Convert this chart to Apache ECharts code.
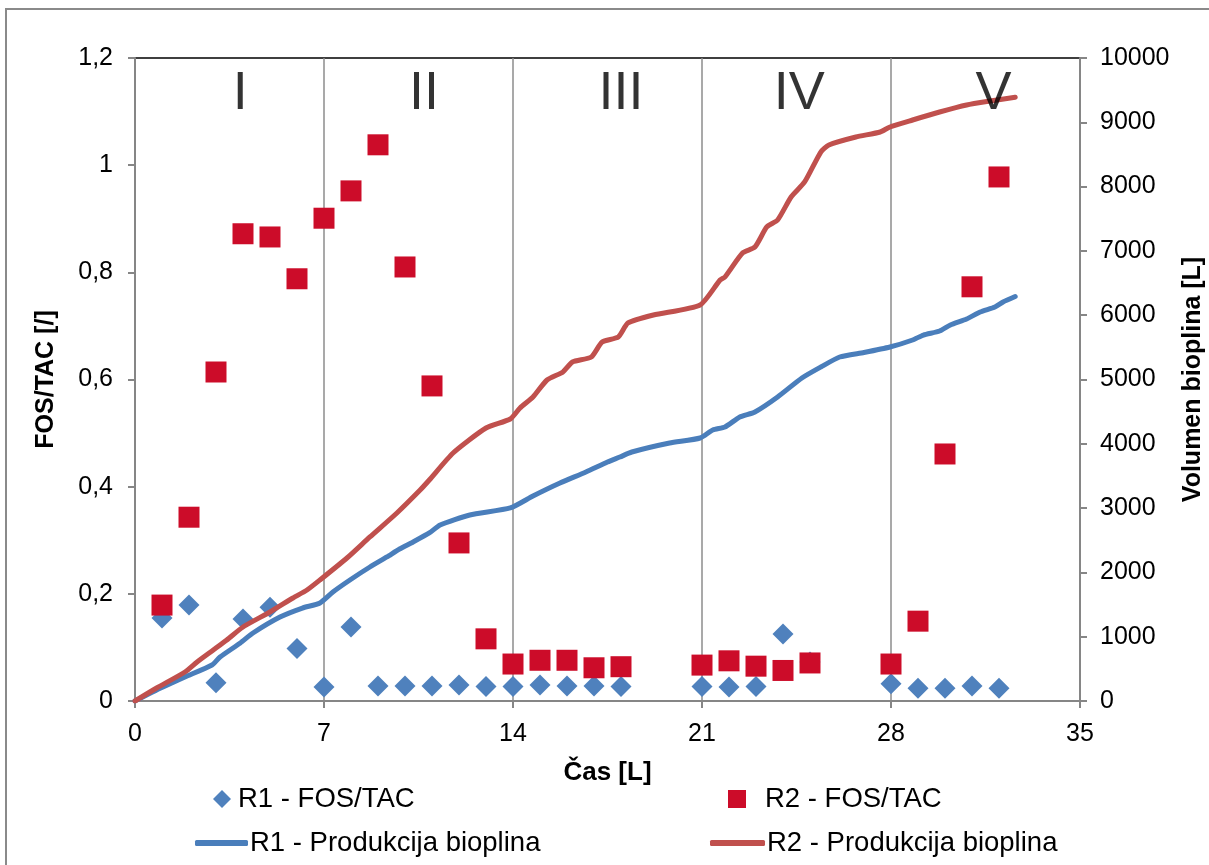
<!DOCTYPE html>
<html>
<head>
<meta charset="utf-8">
<script src="https://cdn.jsdelivr.net/npm/echarts@6/dist/echarts.min.js"></script>
<style>
  html, body { margin: 0; padding: 0; background: #ffffff; }
  #chart { width: 1209px; height: 865px; }
</style>
</head>
<body>
<div id="chart"></div>
<script>
// Sampling days of the FOS/TAC measurements
const fosDays = [1, 2, 3, 4, 5, 6, 7, 8, 9, 10, 11, 12, 13, 14, 15, 16, 17, 18,
                 21, 22, 23, 24, 25, 28, 29, 30, 31, 32];
// FOS/TAC ratio, reactor R1
const r1Fos = [0.155, 0.179, 0.034, 0.153, 0.175, 0.098, 0.026, 0.138, 0.028, 0.028,
               0.028, 0.030, 0.027, 0.027, 0.030, 0.028, 0.028, 0.027, 0.027, 0.026,
               0.027, 0.125, 0.073, 0.032, 0.024, 0.024, 0.028, 0.024];
// FOS/TAC ratio, reactor R2
const r2Fos = [0.179, 0.343, 0.614, 0.872, 0.866, 0.788, 0.901, 0.952, 1.038, 0.810,
               0.588, 0.295, 0.116, 0.069, 0.076, 0.076, 0.062, 0.064, 0.067, 0.075,
               0.065, 0.057, 0.071, 0.069, 0.149, 0.461, 0.773, 0.978];

// Cumulative biogas volume [L]: days and values, reactor R1
const r1GasDays = [0, 0.8, 1.85, 2.85, 3.15, 3.9, 4.37, 5.37, 6.2, 6.85, 7.33, 7.96, 8.7,
                   9.33, 9.8, 10.3, 10.9, 11.3, 12.4, 13.9, 14.74, 15.74, 16.7, 17.5,
                   17.96, 18.4, 19.8, 20.93, 21.4, 21.85, 22.4, 22.96, 23.8, 24.7, 25.4,
                   26.1, 27.0, 27.96, 28.8, 29.2, 29.8, 30.2, 30.8, 31.3, 31.85, 32.15, 32.6];
const r1Gas = [0, 171, 373, 560, 684, 902, 1058, 1306, 1446, 1524, 1695, 1882, 2084,
               2240, 2364, 2473, 2613, 2737, 2893, 3002, 3188, 3390, 3561, 3717,
               3795, 3872, 4012, 4090, 4215, 4261, 4417, 4495, 4728, 5023, 5194,
               5350, 5420, 5505, 5614, 5692, 5754, 5848, 5941, 6050, 6128, 6205, 6290];

// Cumulative biogas volume [L]: days and values, reactor R2
const r2GasDays = [0, 0.8, 1.85, 2.3, 2.9, 3.4, 4.0, 5.0, 5.85, 6.37, 6.85, 7.85, 8.7,
                   9.7, 10.56, 10.9, 11.78, 13.0, 13.9, 14.26, 14.74, 15.26, 15.85, 16.2,
                   16.9, 17.3, 17.9, 18.26, 19.2, 20.93, 21.67, 21.85, 22.5, 22.96, 23.4,
                   23.8, 24.3, 24.8, 25.4, 25.7, 26.7, 27.6, 27.96, 28.8, 29.8, 30.8,
                   31.67, 32.6];
const r2Gas = [0, 202, 451, 607, 793, 949, 1151, 1384, 1602, 1726, 1882, 2224, 2551,
               2924, 3281, 3437, 3857, 4246, 4386, 4557, 4728, 4992, 5117, 5272,
               5350, 5583, 5661, 5879, 6003, 6159, 6547, 6594, 6967, 7060, 7372,
               7480, 7838, 8072, 8538, 8647, 8771, 8849, 8927, 9036, 9160, 9269,
               9331, 9390];

// Experiment phases and where their numerals sit (in days)
const phaseNames = ['I', 'II', 'III', 'IV', 'V'];
const phaseLabelDays = [3.9, 10.7, 18.0, 24.6, 31.8];

// Axis ticks
const xTicks = { min: 0, max: 35, step: 7 };
const fosTicks = { min: 0, max: 1.2, step: 0.2 };
const gasTicks = { min: 0, max: 10000, step: 1000 };

const FONT = '"Liberation Sans", Arial, sans-serif';
const BLUE = '#4F81BD';
const RED = '#CC0C29';
const BLUE_LINE = '#4A7EBB';
const RED_LINE = '#C0504D';
const AXIS_GREY = '#868686';

const pairs = (xs, ys) => xs.map((x, i) => [x, ys[i]]);

const chart = echarts.init(document.getElementById('chart'), null, { renderer: 'canvas' });

const axisCommon = {
  axisLine: { show: true, lineStyle: { color: AXIS_GREY, width: 2 } },
  axisTick: { show: true, inside: false, length: 7, lineStyle: { color: AXIS_GREY, width: 2 } },
  axisLabel: { color: '#000', fontFamily: FONT, fontSize: 25 },
  nameTextStyle: { color: '#000', fontFamily: FONT, fontSize: 25, fontWeight: 'bold' }
};

function legendBlock(name, left, top, extra) {
  return Object.assign({
    data: [name],
    left: left,
    top: top,
    orient: 'horizontal',
    padding: 0,
    selectedMode: false,
    textStyle: { color: '#000', fontFamily: FONT, fontSize: 27.5, padding: [0, 0, 0, 2] }
  }, extra);
}

const option = {
  animation: false,
  backgroundColor: '#ffffff',
  textStyle: { fontFamily: FONT },
  graphic: [{
    type: 'rect',
    silent: true,
    shape: { x: 6, y: 9, width: 1240, height: 900 },
    style: { fill: 'none', stroke: '#8a8a8a', lineWidth: 2 },
    z: -10
  }],
  grid: {
    left: 135, right: 129, top: 58, bottom: 164,
    containLabel: false,
    outerBoundsMode: 'none',
    show: true, borderColor: '#000', borderWidth: 1.5, backgroundColor: 'transparent'
  },
  legend: [
    legendBlock('R1 - FOS/TAC', 213, 785, { itemWidth: 18, itemHeight: 18, icon: 'diamond' }),
    legendBlock('R2 - FOS/TAC', 728, 785, { itemWidth: 18, itemHeight: 18, icon: 'rect',
      textStyle: { color: '#000', fontFamily: FONT, fontSize: 27.5, padding: [0, 0, 0, 14] } }),
    legendBlock('R1 - Produkcija bioplina', 195, 829, { itemWidth: 53, itemHeight: 6, icon: 'roundRect',
      textStyle: { color: '#000', fontFamily: FONT, fontSize: 27.5, padding: [0, 0, 0, -3] } }),
    legendBlock('R2 - Produkcija bioplina', 710, 829, { itemWidth: 55, itemHeight: 6, icon: 'roundRect',
      textStyle: { color: '#000', fontFamily: FONT, fontSize: 27.5, padding: [0, 0, 0, -3] } })
  ],
  xAxis: Object.assign({}, axisCommon, {
    type: 'value',
    min: xTicks.min, max: xTicks.max, interval: xTicks.step,
    name: 'Čas [L]',
    nameLocation: 'middle',
    nameGap: 59,
    nameTextStyle: Object.assign({}, axisCommon.nameTextStyle, { fontSize: 26 }),
    axisLabel: Object.assign({}, axisCommon.axisLabel, { margin: 21 }),
    splitLine: { show: true, lineStyle: { color: '#8c8c8c', width: 1.5 } }
  }),
  yAxis: [
    Object.assign({}, axisCommon, {
      type: 'value',
      position: 'left',
      min: fosTicks.min, max: fosTicks.max, interval: fosTicks.step,
      name: 'FOS/TAC [/]',
      nameLocation: 'middle',
      nameRotate: 90,
      nameGap: 76,
      axisLabel: Object.assign({}, axisCommon.axisLabel, {
        margin: 22,
        formatter: v => String(Number(v.toFixed(1))).replace('.', ',')
      }),
      splitLine: { show: false }
    }),
    Object.assign({}, axisCommon, {
      type: 'value',
      position: 'right',
      min: gasTicks.min, max: gasTicks.max, interval: gasTicks.step,
      name: 'Volumen bioplina [L]',
      nameLocation: 'middle',
      nameRotate: 90,
      nameGap: 96,
      axisLabel: Object.assign({}, axisCommon.axisLabel, {
        margin: 20,
        formatter: v => String(Math.round(v))
      }),
      splitLine: { show: false }
    })
  ],
  series: [
    {
      name: 'R1 - FOS/TAC',
      type: 'scatter',
      yAxisIndex: 0,
      symbol: 'diamond',
      symbolSize: 21,
      itemStyle: { color: BLUE, opacity: 1 },
      data: pairs(fosDays, r1Fos),
      z: 2
    },
    {
      name: 'R2 - FOS/TAC',
      type: 'scatter',
      yAxisIndex: 0,
      symbol: 'rect',
      symbolSize: 21,
      itemStyle: { color: RED, opacity: 1 },
      data: pairs(fosDays, r2Fos),
      z: 3
    },
    {
      name: 'R1 - Produkcija bioplina',
      type: 'line',
      yAxisIndex: 1,
      showSymbol: false,
      symbol: 'none',
      smooth: 0.2,
      lineStyle: { color: BLUE_LINE, width: 5, cap: 'round', join: 'round' },
      itemStyle: { color: BLUE_LINE },
      data: pairs(r1GasDays, r1Gas),
      z: 4
    },
    {
      name: 'R2 - Produkcija bioplina',
      type: 'line',
      yAxisIndex: 1,
      showSymbol: false,
      symbol: 'none',
      smooth: 0.2,
      lineStyle: { color: RED_LINE, width: 5, cap: 'round', join: 'round' },
      itemStyle: { color: RED_LINE },
      data: pairs(r2GasDays, r2Gas),
      z: 5
    },
    {
      name: 'phases',
      type: 'scatter',
      yAxisIndex: 0,
      silent: true,
      symbolSize: 0,
      data: phaseNames.map((n, i) => ({ name: n, value: [phaseLabelDays[i], 1.133] })),
      label: {
        show: true,
        position: 'inside',
        formatter: p => p.name,
        color: '#000',
        fontFamily: FONT,
        fontSize: 54
      },
      z: 6
    }
  ]
};

chart.setOption(option);
</script>
</body>
</html>
